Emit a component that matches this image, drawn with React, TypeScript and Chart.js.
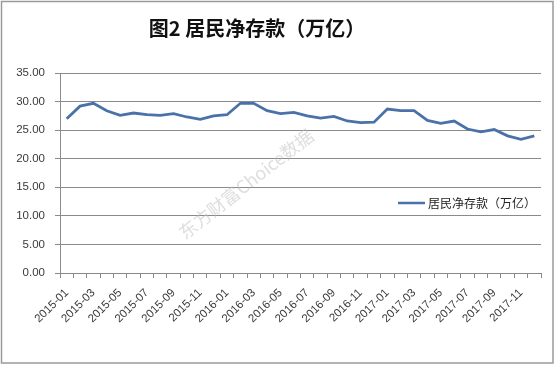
import React, { useEffect, useRef } from 'react';
import { Chart, registerables } from 'chart.js';

Chart.register(...registerables);

const titleText = '图2 居民净存款（万亿）';
const seriesName = '居民净存款（万亿）';
const watermarkText = '东方财富Choice数据';

const months = [
  '2015-01', '2015-02', '2015-03', '2015-04', '2015-05', '2015-06',
  '2015-07', '2015-08', '2015-09', '2015-10', '2015-11', '2015-12',
  '2016-01', '2016-02', '2016-03', '2016-04', '2016-05', '2016-06',
  '2016-07', '2016-08', '2016-09', '2016-10', '2016-11', '2016-12',
  '2017-01', '2017-02', '2017-03', '2017-04', '2017-05', '2017-06',
  '2017-07', '2017-08', '2017-09', '2017-10', '2017-11', '2017-12',
];

const deposits = [
  27.0, 29.2, 29.7, 28.4, 27.6, 28.0,
  27.7, 27.6, 27.9, 27.3, 26.9, 27.5,
  27.7, 29.7, 29.7, 28.4, 27.9, 28.1,
  27.5, 27.1, 27.4, 26.6, 26.3, 26.4,
  28.7, 28.4, 28.4, 26.7, 26.2, 26.6,
  25.2, 24.7, 25.1, 24.0, 23.4, 24.0,
];

const yMin = 0;
const yMax = 35;
const yStep = 5;

const GRID = '#8a8a8a';
const LINE = '#4a72a8';
const TEXT = '#3a3a3a';

const decorPlugin = {
  id: 'decor',
  beforeDraw(chart: any) {
    const ctx = chart.ctx;
    ctx.save();
    ctx.fillStyle = '#ffffff';
    ctx.fillRect(0, 0, chart.width, chart.height);
    ctx.strokeStyle = '#9a9a9a';
    ctx.lineWidth = 1.5;
    ctx.strokeRect(1.5, 1.5, chart.width - 3.5, chart.height - 3.5);
    ctx.restore();
  },
  beforeDatasetsDraw(chart: any) {
    const ctx = chart.ctx;
    ctx.save();
    ctx.translate(246, 184);
    ctx.rotate(-38 * Math.PI / 180);
    ctx.font = '18px "Noto Sans CJK SC", sans-serif';
    ctx.fillStyle = 'rgba(190,190,190,0.5)';
    ctx.textAlign = 'center';
    ctx.textBaseline = 'middle';
    ctx.fillText(watermarkText, 0, 0);
    ctx.restore();
  },
  afterDraw(chart: any) {
    const ctx = chart.ctx;
    ctx.save();
    // title
    ctx.font = 'bold 20px "Noto Sans CJK SC", sans-serif';
    ctx.fillStyle = '#111111';
    ctx.textAlign = 'center';
    ctx.textBaseline = 'middle';
    ctx.fillText(titleText, 257, 28);
    // legend
    const ly = 203;
    ctx.strokeStyle = LINE;
    ctx.lineWidth = 2.5;
    ctx.beginPath();
    ctx.moveTo(398, ly);
    ctx.lineTo(425, ly);
    ctx.stroke();
    ctx.font = '12px "Noto Sans CJK SC", sans-serif';
    ctx.fillStyle = '#222222';
    ctx.textAlign = 'left';
    ctx.fillText(seriesName, 428, ly);
    ctx.restore();
  },
};

export default function App() {
  const ref = useRef<HTMLCanvasElement | null>(null);

  useEffect(() => {
    if (!ref.current) return;
    const chart = new Chart(ref.current, {
      type: 'line',
      data: {
        labels: months,
        datasets: [
          {
            label: seriesName,
            data: deposits,
            borderColor: LINE,
            backgroundColor: LINE,
            borderWidth: 2.8,
            pointRadius: 0,
            tension: 0,
            fill: false,
          },
        ],
      },
      options: {
        responsive: false,
        animation: false,
        devicePixelRatio: 1,
        layout: { padding: { top: 73, right: 14, left: 0, bottom: 0 } },
        plugins: {
          legend: { display: false },
          title: { display: false },
          tooltip: { enabled: false },
        },
        scales: {
          x: {
            type: 'category',
            offset: true,
            afterFit: (s: any) => { s.height = 92; },
            grid: {
              offset: true,
              drawOnChartArea: false,
              drawTicks: true,
              tickLength: 5,
              color: GRID,
            },
            border: { display: true, color: GRID, width: 1 },
            ticks: {
              autoSkip: false,
              minRotation: 45,
              maxRotation: 45,
              padding: 8,
              color: TEXT,
              font: { family: '"Liberation Sans", Arial, sans-serif', size: 11.5 },
              callback: (_v: any, i: number) => (i % 2 === 0 ? months[i] : ''),
            },
          },
          y: {
            min: yMin,
            max: yMax,
            afterFit: (s: any) => { s.width = 60; },
            grid: {
              color: GRID,
              drawTicks: true,
              tickLength: 5,
            },
            border: { display: true, color: GRID, width: 1 },
            ticks: {
              stepSize: yStep,
              padding: 10,
              color: TEXT,
              font: { family: '"Liberation Sans", Arial, sans-serif', size: 11.5 },
              callback: (v: any) => Number(v).toFixed(2),
            },
          },
        },
      },
      plugins: [decorPlugin],
    } as any);
    return () => chart.destroy();
  }, []);

  return (
    <div style={{ position: 'fixed', left: 0, top: 0, width: 555, height: 365, background: '#fff' }}>
      <canvas ref={ref} width={555} height={365} style={{ display: 'block', width: 555, height: 365 }} />
    </div>
  );
}
